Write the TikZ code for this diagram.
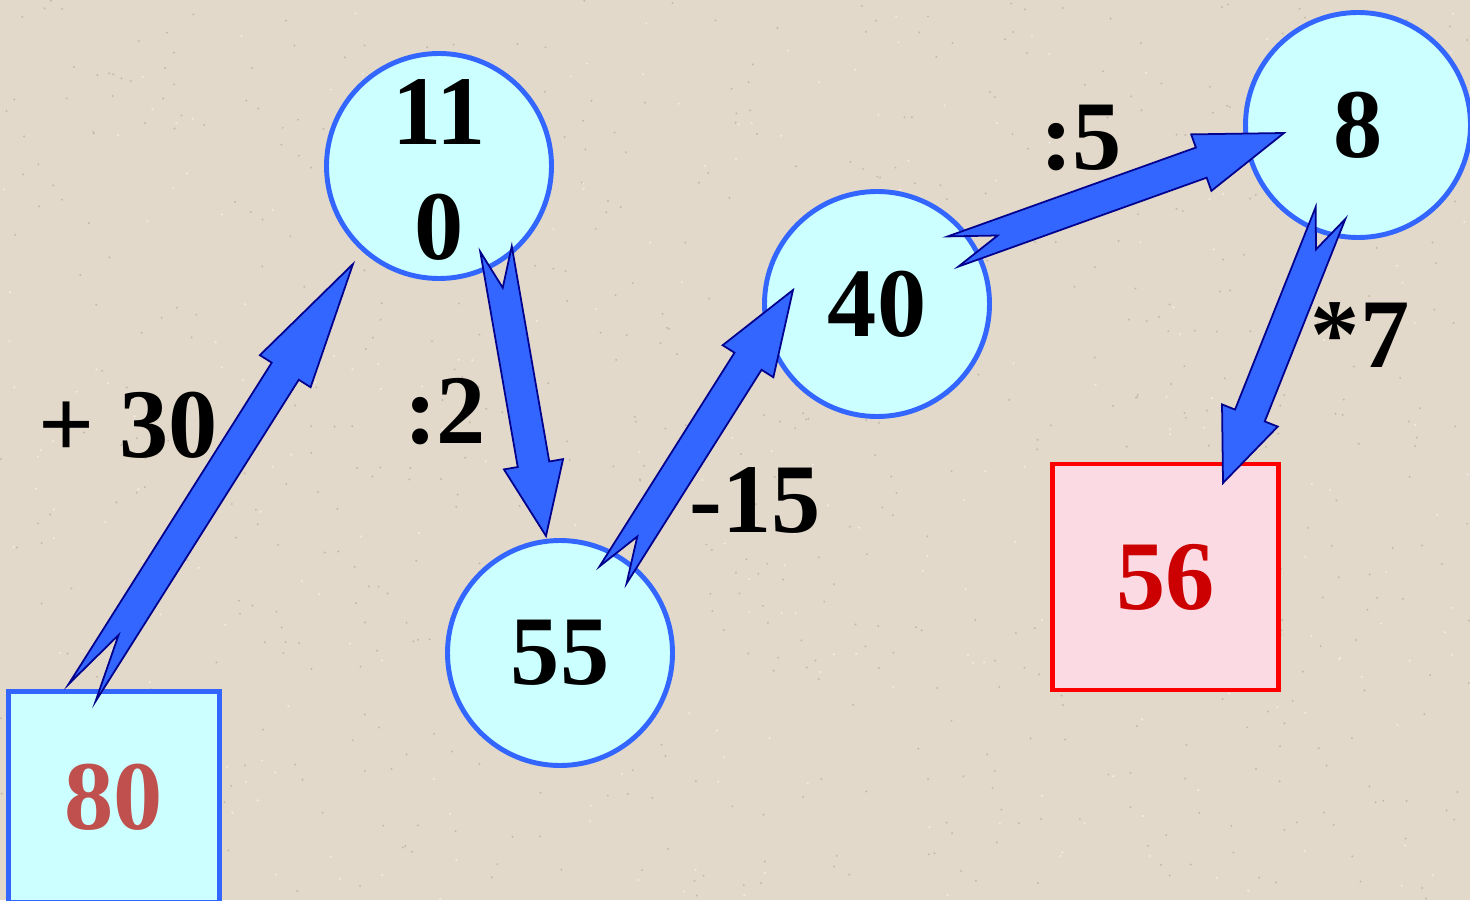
\documentclass[tikz,border=0pt]{standalone}
\usepackage{fontspec}
\setmainfont{Liberation Serif}
\usepackage{tikz}
\usetikzlibrary{calc}
\usepackage{xcolor}
\definecolor{paper}{RGB}{226,217,202}
\definecolor{speck}{RGB}{196,186,170}
\definecolor{speckhi}{RGB}{240,235,226}
\definecolor{lightcyan}{RGB}{204,255,255}
\definecolor{edgeblue}{RGB}{51,102,255}
\definecolor{navy}{RGB}{0,0,140}
\definecolor{softpink}{RGB}{251,218,228}
\definecolor{brickred}{RGB}{192,80,77}
\definecolor{darkred}{RGB}{204,0,0}

\tikzset{
  bignum/.style={font=\bfseries\fontsize{28}{32}\selectfont},
  numcircle/.style={circle, draw=edgeblue, fill=lightcyan, line width=1.4pt,
    minimum size=2.25cm, inner sep=0pt, bignum},
  numbox/.style={rectangle, draw=edgeblue, fill=lightcyan, line width=1.5pt,
    minimum size=2.11cm, inner sep=0pt, bignum, text=brickred},
  resultbox/.style={rectangle, draw=red, fill=softpink, line width=1.4pt,
    minimum size=2.26cm, inner sep=0pt, bignum, text=darkred},
  oplabel/.style={bignum, inner sep=0pt},
  arrowbody/.style={fill=edgeblue, draw=navy, line width=0.5pt, line join=miter}
}

% fat block arrow with notched tail, from #1 to #2
\newcommand{\blockarrow}[2]{%
  \coordinate (hb) at ($(#1)!0.75!(#2)$);
  \coordinate (nt) at ($(#1)!0.135!(#2)$);
  \draw[arrowbody]
    ($(#1)!0.16cm!90:(#2)$) -- ($(hb)!0.16cm!90:(#2)$) -- ($(hb)!0.30cm!90:(#2)$)
    -- (#2) -- ($(hb)!0.30cm!-90:(#2)$) -- ($(hb)!0.16cm!-90:(#2)$)
    -- ($(#1)!0.16cm!-90:(#2)$) -- (nt) -- cycle;
}

\begin{document}
\begin{tikzpicture}
  \useasboundingbox (0,0) rectangle (14.7,9);
  \clip (0,0) rectangle (14.7,9);

  % paper background
  \fill[paper] (0,0) rectangle (14.7,9);
  \pgfmathsetseed{17}
  \foreach \i in {1,...,700} {
    \fill[speck] ({14.7*rnd},{9*rnd}) circle (0.011);
  }
  \foreach \i in {1,...,300} {
    \fill[speckhi] ({14.7*rnd},{9*rnd}) circle (0.012);
  }

  % start and result
  \node[numbox] (box80) at (1.14,1.03) {80};
  \node[resultbox] (box56) at (11.655,3.23) {56};

  % intermediate values
  \node[numcircle] (c110) at (4.39,7.34) {};
  \node[bignum] (c110top) at ($(c110)+(0,0.54)$) {11};
  \node[bignum] (c110bot) at ($(c110)+(0,-0.615)$) {0};
  \node[numcircle] (c55) at (5.60,2.47) {55};
  \node[numcircle] (c40) at (8.77,5.96) {40};
  \node[numcircle] (c8) at (13.58,7.75) {8};

  % arrow ends
  \coordinate (t1) at ($(box80.north)+(-0.32,-0.04)$);
  \coordinate (h1) at ($(c110)+(-0.86,-0.98)$);
  \coordinate (t2) at ($(c110)+(0.57,-0.83)$);
  \coordinate (h2) at ($(c55)+(-0.14,1.17)$);
  \coordinate (t3) at ($(c55)+(0.53,0.78)$);
  \coordinate (h3) at ($(c40)+(-0.84,0.14)$);
  \coordinate (t4) at ($(c40)+(0.76,0.525)$);
  \coordinate (h4) at ($(c8)+(-0.74,-0.08)$);
  \coordinate (t5) at ($(c8)+(-0.275,-0.88)$);
  \coordinate (h5) at ($(box56)+(0.575,0.94)$);

  \blockarrow{t1}{h1}
  \blockarrow{t2}{h2}
  \blockarrow{t3}{h3}
  \blockarrow{t4}{h4}
  \blockarrow{t5}{h5}

  % operations
  \node[oplabel] (op1) at (1.28,4.75) {+ 30};
  \node[oplabel] (op2) at (4.45,4.88) {:2};
  \node[oplabel] (op3) at (7.55,4.00) {-15};
  \node[oplabel] (op4) at (10.81,7.62) {:5};
  \node[oplabel] (op5) at (13.60,5.65) {*7};
\end{tikzpicture}
\end{document}
